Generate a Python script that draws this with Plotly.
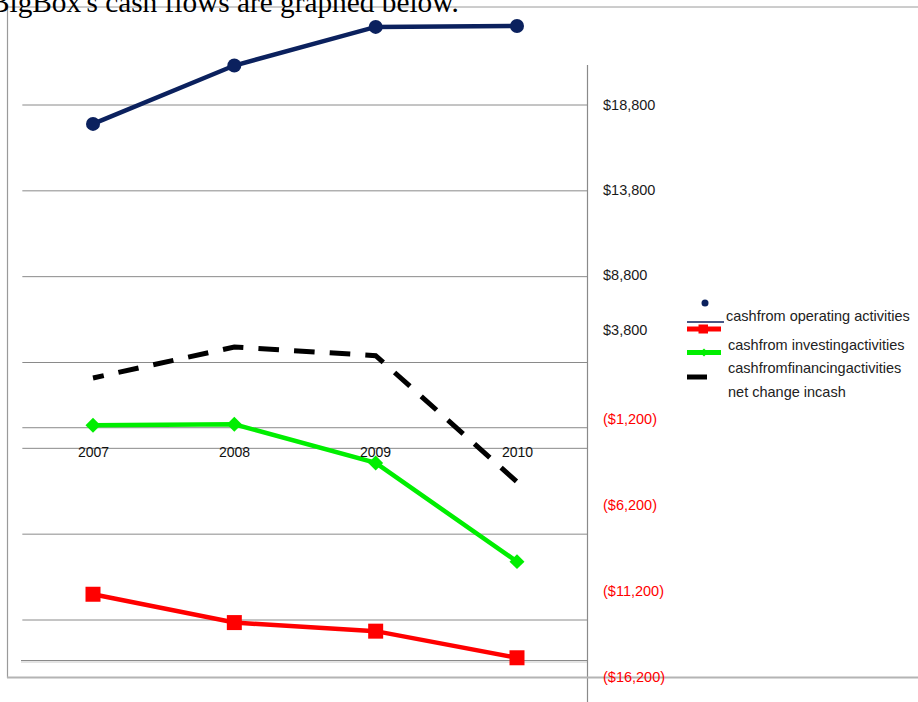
import plotly.graph_objects as go

# ---------------- data ----------------
years = ["2007", "2008", "2009", "2010"]
operating = [17700, 21100, 23350, 23400]
investing = [-9700, -11350, -11850, -13400]
financing = [150, 200, -2050, -7800]
net_change = [2900, 4700, 4200, -3150]

tick_values = [18800, 13800, 8800, 3800, -1200, -6200, -11200, -16200]
tick_text = ["$18,800", "$13,800", "$8,800", "$3,800",
             "($1,200)", "($6,200)", "($11,200)", "($16,200)"]
legend_names = ["cashfrom operating activities", "cashfrom investingactivities",
                "cashfromfinancingactivities", "net change incash"]
title_text = "BigBox's cash flows are graphed below."

# ---------------- layout helpers ----------------
W, H = 918, 702
def px(x):
    return x / W
def py(y):
    return 1 - y / H

x_idx = list(range(len(years)))
x_first_px, x_step_px = 93, (517 - 93) / 3
k = 515 / 30000.0          # pixels per dollar
y_ref_val, y_ref_px = 18800, 105
y_top = y_ref_val + y_ref_px / k
y_bot = y_ref_val - (H - y_ref_px) / k

def val_to_paper(v, shift_px=0):
    return py(y_ref_px + (y_ref_val - v) * k - shift_px)

NAVY = "#0b215e"
RED = "#ff0000"
GREEN = "#00ee00"
GRID = "#8a8a8a"

# dash pattern with an initial short dash (phase offset)
dash_pattern = ",".join(["11px", "15px"] + ["20.6px", "15.1px"] * 14)

fig = go.Figure()
fig.add_trace(go.Scatter(x=x_idx, y=operating, mode="lines+markers",
                         line=dict(color=NAVY, width=4.5),
                         marker=dict(symbol="circle", size=14, color=NAVY),
                         name=legend_names[0], cliponaxis=False))
fig.add_trace(go.Scatter(x=x_idx, y=investing, mode="lines+markers",
                         line=dict(color=RED, width=4.5),
                         marker=dict(symbol="square", size=15, color=RED),
                         name=legend_names[1], cliponaxis=False))
fig.add_trace(go.Scatter(x=x_idx, y=financing, mode="lines+markers",
                         line=dict(color=GREEN, width=4.5),
                         marker=dict(symbol="diamond", size=11.5, color=GREEN),
                         name=legend_names[2], cliponaxis=False))
fig.add_trace(go.Scatter(x=x_idx, y=net_change, mode="lines",
                         line=dict(color="#000000", width=5, dash=dash_pattern),
                         name=legend_names[3], cliponaxis=False))

shapes = []
# horizontal gridlines (incl. zero line)
for v in [18800, 13800, 8800, 3800, 0, -1200, -6200, -11200]:
    shapes.append(dict(type="line", xref="x", yref="y", x0=-0.5, x1=3.5, y0=v, y1=v,
                       line=dict(color=GRID, width=1), layer="below"))
# extra lower gridline
shapes.append(dict(type="line", xref="paper", yref="paper", x0=px(21), x1=px(588),
                   y0=py(660.5), y1=py(660.5), line=dict(color=GRID, width=1), layer="below"))
shapes.append(dict(type="line", xref="paper", yref="paper", x0=px(21), x1=px(588),
                   y0=py(662), y1=py(662), line=dict(color="#c8c8c8", width=1), layer="below"))
# vertical value axis line
shapes.append(dict(type="line", xref="paper", yref="paper", x0=px(587.5), x1=px(587.5),
                   y0=py(65), y1=py(702), line=dict(color=GRID, width=1.2), layer="below"))
# frame: left, top, bottom
shapes.append(dict(type="line", xref="paper", yref="paper", x0=px(7.5), x1=px(7.5),
                   y0=py(8), y1=py(678), line=dict(color="#9a9a9a", width=1.2), layer="below"))
shapes.append(dict(type="line", xref="paper", yref="paper", x0=px(7), x1=px(918),
                   y0=py(7), y1=py(7), line=dict(color="#9a9a9a", width=1), layer="above"))
shapes.append(dict(type="line", xref="paper", yref="paper", x0=px(7), x1=px(918),
                   y0=py(677.5), y1=py(677.5), line=dict(color="#b4b4b4", width=2), layer="below"))

# legend symbols
shapes.append(dict(type="circle", xref="paper", yref="paper", x0=px(701.5), x1=px(708.5),
                   y0=py(306.5), y1=py(299.5), fillcolor=NAVY, line=dict(width=0)))
shapes.append(dict(type="line", xref="paper", yref="paper", x0=px(687), x1=px(724),
                   y0=py(322), y1=py(322), line=dict(color=NAVY, width=1.5)))
shapes.append(dict(type="line", xref="paper", yref="paper", x0=px(687), x1=px(721),
                   y0=py(329), y1=py(329), line=dict(color=RED, width=5)))
shapes.append(dict(type="rect", xref="paper", yref="paper", x0=px(698.5), x1=px(708),
                   y0=py(333.5), y1=py(324.5), fillcolor=RED, line=dict(width=0)))
shapes.append(dict(type="line", xref="paper", yref="paper", x0=px(687), x1=px(721),
                   y0=py(352.5), y1=py(352.5), line=dict(color=GREEN, width=5)))
shapes.append(dict(type="path", xref="paper", yref="paper",
                   path=f"M {px(700)},{py(352.5)} L {px(704)},{py(348.5)} L {px(708)},{py(352.5)} L {px(704)},{py(356.5)} Z",
                   fillcolor=GREEN, line=dict(width=0)))
shapes.append(dict(type="line", xref="paper", yref="paper", x0=px(687), x1=px(707),
                   y0=py(377), y1=py(377), line=dict(color="#000000", width=5)))

annotations = []
# title (partly cut off at the top, as in the source)
annotations.append(dict(text=title_text, xref="paper", yref="paper", x=px(-12), y=py(2),
                        xanchor="left", yanchor="middle", showarrow=False,
                        font=dict(family="Liberation Serif", size=29.3, color="#000000")))
# year labels under the zero line
for i, yr in zip(x_idx, years):
    annotations.append(dict(text=yr, xref="x", yref="y", x=i, y=0, yshift=-24,
                            xanchor="center", yanchor="middle", showarrow=False,
                            font=dict(family="Liberation Sans", size=14, color="#111111")))
# value axis labels
label_shift = [0, 1, 2, 33, 29, 29, 29, 29]
for v, t, s in zip(tick_values, tick_text, label_shift):
    annotations.append(dict(text=t, xref="paper", yref="paper", x=px(601),
                            y=val_to_paper(v, s),
                            xanchor="left", yanchor="middle", showarrow=False,
                            font=dict(family="Liberation Sans", size=14.5,
                                      color=RED if v < 0 else "#1a1a1a")))
# legend labels
legend_pos = [(724, 316), (726, 345), (726, 368), (726, 391.5)]
for name, (lx, ly) in zip(legend_names, legend_pos):
    annotations.append(dict(text=name, xref="paper", yref="paper", x=px(lx), y=py(ly),
                            xanchor="left", yanchor="middle", showarrow=False,
                            font=dict(family="Liberation Sans", size=14.5, color="#222222")))

fig.update_layout(
    width=W, height=H,
    margin=dict(l=0, r=0, t=0, b=0),
    paper_bgcolor="white", plot_bgcolor="white",
    showlegend=False,
    xaxis=dict(range=[-x_first_px / x_step_px, (W - x_first_px) / x_step_px],
               visible=False, fixedrange=True),
    yaxis=dict(range=[y_bot, y_top], visible=False, fixedrange=True),
    shapes=shapes, annotations=annotations,
)

fig.write_html("out.html")
